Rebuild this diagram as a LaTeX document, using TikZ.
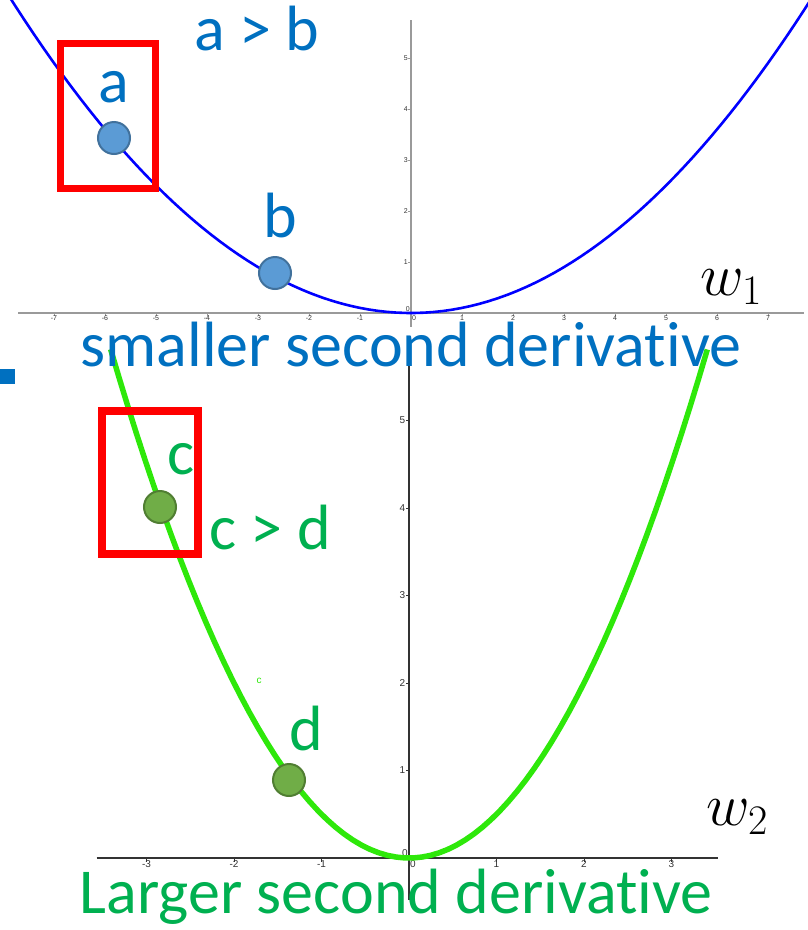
\RequirePackage{fix-cm}
\documentclass[tikz,border=0pt]{standalone}
\usepackage{fontspec}
\setmainfont{Carlito}[Ligatures=NoCommon]
\newfontfamily\tickfont{Liberation Sans}
\usetikzlibrary{calc}
\definecolor{txtBlue}{HTML}{0070C0}
\definecolor{txtGreen}{HTML}{00B050}
\definecolor{curveBlue}{HTML}{0000FF}
\definecolor{curveGreen}{HTML}{2EE80A}
\definecolor{ptBlue}{HTML}{5B9BD5}
\definecolor{ptBlueEdge}{HTML}{41719C}
\definecolor{ptGreen}{HTML}{70AD47}
\definecolor{ptGreenEdge}{HTML}{507E32}
\definecolor{axisGray}{HTML}{9A9A9A}
\definecolor{axisDark}{HTML}{333333}
\begin{document}
\begin{tikzpicture}[x=1pt,y=-1pt,
 big/.style={font=\fontsize{64}{64}\selectfont,anchor=base,inner sep=0pt},
 wlabel/.style={font=\fontsize{60}{60}\selectfont,anchor=base west,inner sep=0pt},
 tick/.style={font=\tickfont\fontsize{7}{7}\selectfont,text=axisDark,inner sep=1pt},
 dot/.style={circle,minimum size=32pt,inner sep=0pt,line width=2pt},
 box/.style={draw=red,line width=7.5pt}]
\useasboundingbox (0,0) rectangle (808,930);
\clip (0,0) rectangle (808,930);
% upper graph, w_1
\begin{scope}[shift={(411,313)},x=51pt,y=51pt]
 \draw[axisGray,line width=1.3pt] (-7.7,0)--(7.7,0);
 \draw[axisGray,line width=1.3pt] (0,-.27)--(0,5.75);
 \foreach \i in {-7,...,-1,1,2,...,7}{
  \draw[axisGray] (\i,0)--(\i,-.06);
  \node[tick,below] at (\i,-.03) {\i};
 }
 \foreach \j in {1,...,5}{
  \draw[axisGray] (0,\j)--(-.06,\j);
  \node[tick,left] at (-.04,\j) {\j};
 }
 \node[tick,above left] at (0,0) {0};
 \node[tick,below right] at (0,-.03) {0};
 \draw[curveBlue,line width=2.6pt] plot[domain=-8.3:7.9,samples=90] (\x,{0.1*\x*\x});
\end{scope}
% lower graph, w_2
\begin{scope}[shift={(409,858)},x=87.5pt,y=87.5pt]
 \draw[axisDark,line width=1.2pt] (-3.57,0)--(3.53,0);
 \draw[axisDark,line width=1.2pt] (0,-.48)--(0,5.86);
 \foreach \i in {-3,...,-1,1,2,3}{
  \draw[axisDark] (\i,0)--(\i,-.04);
  \node[tick,below,font=\tickfont\fontsize{10}{10}\selectfont] at (\i,-.02) {\i};
 }
 \foreach \j in {1,...,5}{
  \draw[axisDark] (0,\j)--(-.04,\j);
  \node[tick,left,font=\tickfont\fontsize{10}{10}\selectfont] at (-.03,\j) {\j};
 }
 \node[tick,above left,font=\tickfont\fontsize{10}{10}\selectfont] at (0,0) {0};
 \node[tick,below right,font=\tickfont\fontsize{10}{10}\selectfont] at (0,-.02) {0};
 \draw[curveGreen,line width=5.5pt] plot[domain=-3.41:3.41,samples=70] (\x,{0.5*\x*\x});
\end{scope}
\node[font=\tickfont\fontsize{10}{10}\selectfont,text=curveGreen,anchor=base] (tinyc) at (259,683) {c};
% overlay marks
\fill[txtBlue] (0,369) rectangle (15,384);
\draw[box] (60.5,43.5) rectangle (155.5,188.5);
\draw[box] (102,411) rectangle (198,554);
\node[dot,fill=ptBlue,draw=ptBlueEdge] (pa) at (114,138) {};
\node[dot,fill=ptBlue,draw=ptBlueEdge] (pb) at (275,273) {};
\node[dot,fill=ptGreen,draw=ptGreenEdge] (pc) at (160,507) {};
\node[dot,fill=ptGreen,draw=ptGreenEdge] (pd) at (289,780) {};
\node[big,txtBlue] (cmpab) at (257,50) {a > b};
\node[big,txtBlue] (lbla) at (113.5,102) {a};
\node[big,txtBlue] (lblb) at (280,237) {b};
\node[big,txtBlue] (small) at (411,366) {smaller second derivative};
\node[big,txtGreen] (lblc) at (181,474) {c};
\node[big,txtGreen] (cmpcd) at (270,549) {c > d};
\node[big,txtGreen] (lbld) at (306,750) {d};
\node[big,txtGreen] (large) at (396,913) {Larger second derivative};
\node[wlabel] (wone) at (700,295) {$w_1$};
\node[wlabel] (wtwo) at (706,825) {$w_2$};
\end{tikzpicture}
\end{document}
